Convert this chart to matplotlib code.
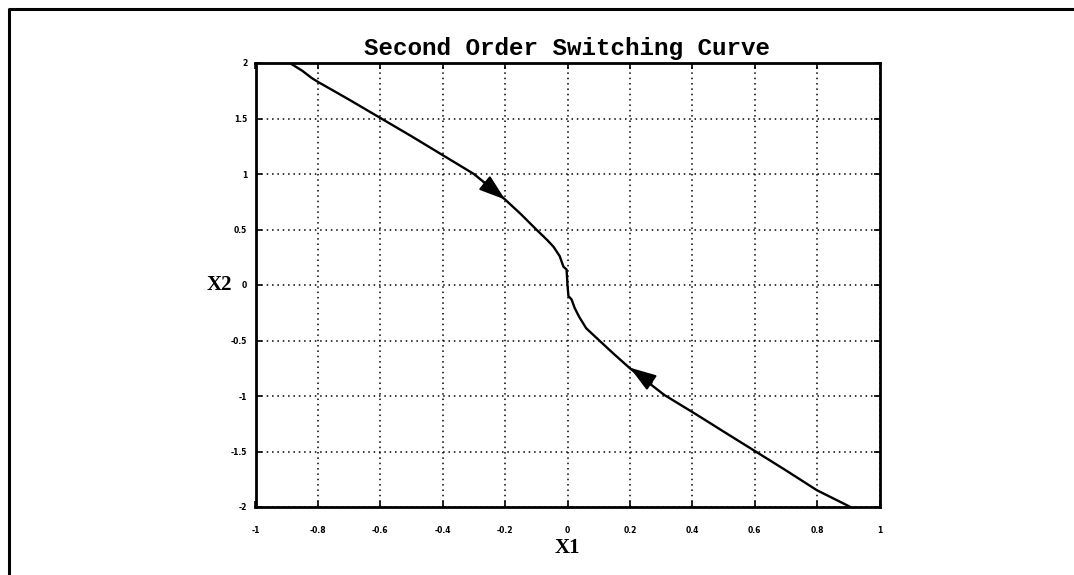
import matplotlib
matplotlib.use("Agg")
import matplotlib.pyplot as plt
from matplotlib.lines import Line2D

# ---- data ----
x1 = [-0.89, -0.85, -0.82, -0.80, -0.70, -0.60, -0.50, -0.40, -0.30, -0.20,
      -0.15, -0.10, -0.065, -0.045, -0.025, -0.013, -0.003, 0.0,
      0.0, 0.003, 0.013, 0.023, 0.037, 0.06, 0.10, 0.15, 0.20, 0.31,
      0.415, 0.50, 0.603, 0.70, 0.80, 0.85, 0.907]
x2 = [2.0, 1.93, 1.865, 1.83, 1.67, 1.505, 1.34, 1.17, 1.0, 0.77,
      0.64, 0.50, 0.405, 0.345, 0.26, 0.165, 0.14, 0.0,
      0.0, -0.10, -0.13, -0.207, -0.285, -0.39, -0.495, -0.625, -0.75, -0.99,
      -1.17, -1.32, -1.50, -1.67, -1.85, -1.92, -2.0]

# arrows: (tail, tip)
arrow_tails = [(-0.27, 0.93), (0.27, -0.88)]
arrow_tips = [(-0.20, 0.77), (0.20, -0.745)]

xticks = [-1, -0.8, -0.6, -0.4, -0.2, 0, 0.2, 0.4, 0.6, 0.8, 1]
xticklabels = ["-1", "-0.8", "-0.6", "-0.4", "-0.2", "0", "0.2", "0.4", "0.6", "0.8", "1"]
yticks = [-2, -1.5, -1, -0.5, 0, 0.5, 1, 1.5, 2]
yticklabels = ["-2", "-1.5", "-1", "-0.5", "0", "0.5", "1", "1.5", "2"]

title = "Second Order Switching Curve"
xlabel = "X1"
ylabel = "X2"

# ---- figure ----
W, H = 1074, 575
fig = plt.figure(figsize=(W / 100, H / 100), dpi=100)
fig.patch.set_facecolor("white")

# outer frame (top and left lines)
fx = 8.5 / W
fy = 1 - 8.5 / H
fig.add_artist(Line2D([fx, fx, 1.0], [0.0, fy, fy], transform=fig.transFigure,
                      color="black", lw=2.2))

ax = fig.add_axes([255.5 / W, 1 - 507 / H, 624 / W, 444 / H])
ax.plot(x1, x2, color="black", lw=1.7)

for (tx, ty), (hx, hy) in zip(arrow_tails, arrow_tips):
    ax.annotate("", xy=(hx, hy), xytext=(tx, ty),
                arrowprops=dict(arrowstyle="-|>,head_length=0.9,head_width=0.3",
                                mutation_scale=18, color="black", lw=1.5,
                                shrinkA=0, shrinkB=0))

ax.set_xlim(-1, 1)
ax.set_ylim(-2, 2)
ax.set_xticks(xticks)
ax.set_xticklabels(xticklabels)
ax.set_yticks(yticks)
ax.set_yticklabels(yticklabels)
ax.tick_params(direction="in", length=4, width=1.2, labelsize=5.5,
               top=True, right=True)
ax.tick_params(axis="x", pad=14)
ax.tick_params(axis="y", pad=6)
for lab in ax.get_xticklabels() + ax.get_yticklabels():
    lab.set_fontweight("bold")

ax.grid(True, color="black", linestyle=(0, (1, 2.5)), lw=1.1)
for s in ax.spines.values():
    s.set_linewidth(2.0)

ax.set_title(title, fontfamily="Liberation Mono", fontweight="bold",
             fontsize=17.5, pad=6)
ax.set_xlabel(xlabel, fontfamily="Liberation Serif", fontweight="bold",
              fontsize=15, labelpad=2)
ax.set_ylabel(ylabel, fontfamily="Liberation Serif", fontweight="bold",
              fontsize=15, rotation=0, labelpad=8, va="center")

fig.savefig("out.png", dpi=100, facecolor="white")
